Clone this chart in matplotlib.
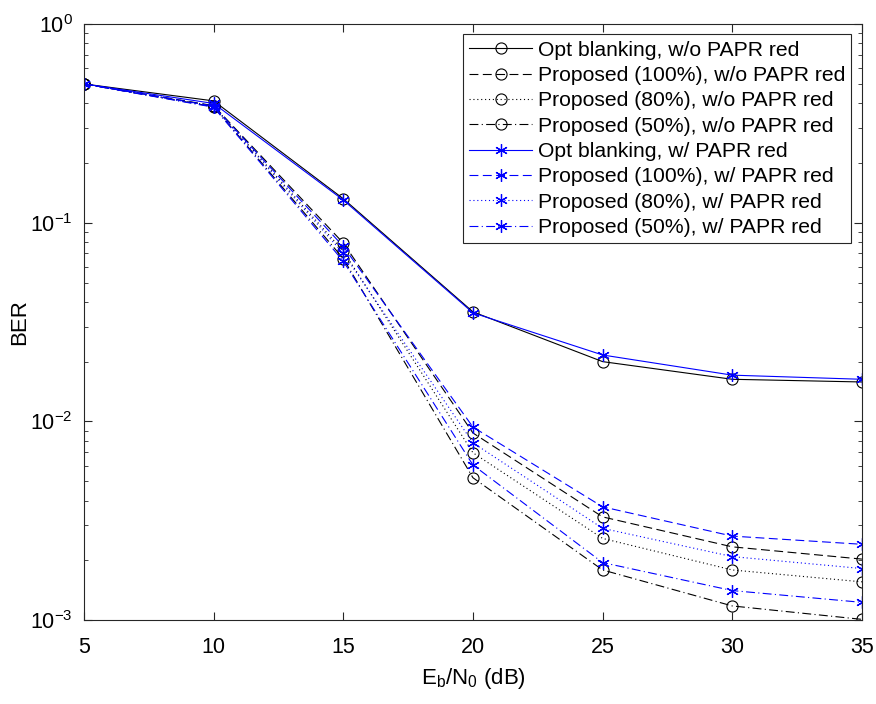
import matplotlib
matplotlib.use("Agg")
import matplotlib.pyplot as plt
from matplotlib.ticker import LogLocator, NullFormatter

plt.rcParams['font.family'] = ['Liberation Sans', 'DejaVu Sans']
plt.rcParams['mathtext.default'] = 'regular'

# Eb/N0 (dB)
ebn0 = [5, 10, 15, 20, 25, 30, 35]

# BER without PAPR reduction
opt_wo = [0.499, 0.410, 0.132, 0.0356, 0.0200, 0.0163, 0.0158]
p100_wo = [0.499, 0.388, 0.079, 0.00875, 0.00331, 0.00234, 0.00203]
p80_wo = [0.499, 0.386, 0.072, 0.00696, 0.00258, 0.00179, 0.00156]
p50_wo = [0.499, 0.383, 0.066, 0.00521, 0.00179, 0.00118, 0.00101]

# BER with PAPR reduction
opt_w = [0.499, 0.398, 0.130, 0.0352, 0.0216, 0.0171, 0.0163]
p100_w = [0.499, 0.386, 0.076, 0.00937, 0.00372, 0.00265, 0.00241]
p80_w = [0.499, 0.384, 0.070, 0.00781, 0.00290, 0.00209, 0.00182]
p50_w = [0.499, 0.381, 0.064, 0.00604, 0.00195, 0.00141, 0.00123]

labels = ['Opt blanking, w/o PAPR red',
          'Proposed (100%), w/o PAPR red',
          'Proposed (80%), w/o PAPR red',
          'Proposed (50%), w/o PAPR red',
          'Opt blanking, w/ PAPR red',
          'Proposed (100%), w/ PAPR red',
          'Proposed (80%), w/ PAPR red',
          'Proposed (50%), w/ PAPR red']

fig = plt.figure(figsize=(8.76, 7.04), dpi=100)
ax = fig.add_axes([0.0959, 0.119, 0.888, 0.847])

series = [opt_wo, p100_wo, p80_wo, p50_wo, opt_w, p100_w, p80_w, p50_w]
styles = ['-', (0, (8, 4)), (0, (1, 2.5)), (0, (8, 3, 1, 3))] * 2
colors = ['k'] * 4 + ['#0000ff'] * 4
markers = ['o'] * 4 + ['*'] * 4

for y, ls, c, m, lab in zip(series, styles, colors, markers, labels):
    if m == 'o':
        ax.semilogy(ebn0, y, linestyle=ls, color=c, lw=0.8, marker='o',
                    markersize=8, markerfacecolor='none', markeredgecolor=c,
                    markeredgewidth=0.8, label=lab)
    else:
        ax.semilogy(ebn0, y, linestyle=ls, color=c, lw=0.8, marker=(6, 2, 0),
                    markersize=9, markeredgecolor=c, markeredgewidth=0.9,
                    label=lab)

ax.set_xlim(5, 35)
ax.set_ylim(1e-3, 1)
ax.set_xticks([5, 10, 15, 20, 25, 30, 35])
ax.yaxis.set_minor_locator(LogLocator(base=10, subs=range(2, 10)))
ax.yaxis.set_minor_formatter(NullFormatter())
ax.tick_params(which='both', direction='in', top=True, right=True,
               labelsize=15.5, color='#262626')
ax.tick_params(axis='x', pad=12)
ax.tick_params(axis='y', pad=8)
ax.tick_params(which='major', length=6)
ax.tick_params(which='minor', length=3)
for s in ax.spines.values():
    s.set_color('#262626')
    s.set_linewidth(0.8)

ax.set_xlabel(r'$E_b/N_0$ (dB)', fontsize=16, labelpad=6)
ax.set_ylabel('BER', fontsize=16, labelpad=0)

leg = ax.legend(loc='upper right', fontsize=15.2, numpoints=1,
                handlelength=3.0, handletextpad=0.25, labelspacing=0.3,
                borderpad=0.3, borderaxespad=0.5, fancybox=False,
                framealpha=1)
leg.get_frame().set_edgecolor('#262626')
leg.get_frame().set_linewidth(0.8)

fig.savefig('out.png', dpi=100)
